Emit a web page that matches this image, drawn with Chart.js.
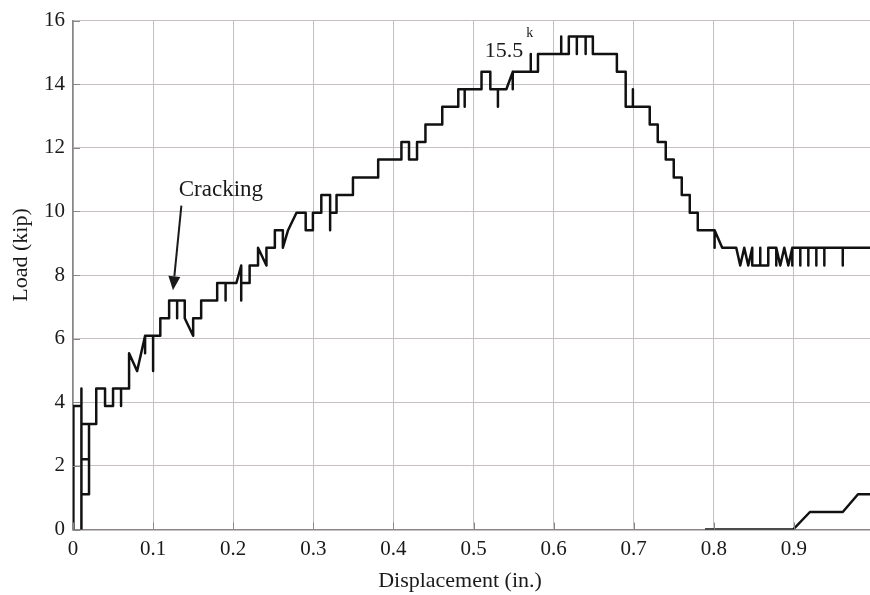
<!DOCTYPE html>
<html>
<head>
<meta charset="utf-8">
<script src="https://cdn.jsdelivr.net/npm/chart.js@4/dist/chart.umd.min.js"></script>
<style>
  html, body { margin: 0; padding: 0; background: #ffffff; }
  #wrap { width: 870px; height: 595px; }
</style>
</head>
<body>
<div id="wrap"><canvas id="c" width="870" height="595"></canvas></div>
<script>
// Load-displacement record of the specimen (displacement in inches, load in kips)
const dispIn = [
  0.0005, 0.0005, 0.0105, 0.0105, 0.0105, 0.0105, 0.020, 0.020, 0.020, 0.0105,
  0.0105, 0.029, 0.029, 0.040, 0.040, 0.050, 0.050, 0.060, 0.060, 0.060,
  0.070, 0.070, 0.080, 0.090, 0.090, 0.090, 0.100, 0.100, 0.100, 0.109,
  0.109, 0.120, 0.120, 0.130, 0.130, 0.130, 0.1395, 0.1395, 0.150, 0.150,
  0.160, 0.160, 0.180, 0.180, 0.1905, 0.1905, 0.1905, 0.204, 0.210, 0.210,
  0.210, 0.2205, 0.2205, 0.231, 0.231, 0.2415, 0.2415, 0.252, 0.252, 0.262,
  0.262, 0.2685, 0.279, 0.2905, 0.2905, 0.2995, 0.2995, 0.310, 0.310, 0.321,
  0.321, 0.321, 0.329, 0.329, 0.3495, 0.3495, 0.381, 0.381, 0.410, 0.410,
  0.4195, 0.4195, 0.4295, 0.4295, 0.440, 0.440, 0.461, 0.461, 0.481, 0.481,
  0.489, 0.489, 0.489, 0.510, 0.510, 0.521, 0.521, 0.5305, 0.5305, 0.5305,
  0.541, 0.549, 0.549, 0.549, 0.5715, 0.5715, 0.5715, 0.5805, 0.5805, 0.6095,
  0.6095, 0.6095, 0.619, 0.619, 0.629, 0.629, 0.629, 0.640, 0.640, 0.640,
  0.649, 0.649, 0.679, 0.679, 0.690, 0.690, 0.699, 0.699, 0.699, 0.720,
  0.720, 0.730, 0.730, 0.740, 0.740, 0.750, 0.750, 0.760, 0.760, 0.770,
  0.770, 0.780, 0.780, 0.801, 0.801, 0.801, 0.8105, 0.828, 0.833, 0.838,
  0.843, 0.848, 0.848, 0.858, 0.858, 0.858, 0.868, 0.868, 0.878, 0.878,
  0.878, 0.883, 0.888, 0.893, 0.898, 0.898, 0.898, 0.908, 0.908, 0.908,
  0.918, 0.918, 0.918, 0.928, 0.928, 0.928, 0.938, 0.938, 0.938, 0.961,
  0.961, 0.961, 1.000
];
const loadKip = [
  0, 3.88, 3.88, 0, 4.43, 1.11, 1.11, 3.32, 2.21, 2.21,
  3.32, 3.32, 4.43, 4.43, 3.88, 3.88, 4.43, 4.43, 3.88, 4.43,
  4.43, 5.54, 4.98, 6.09, 5.54, 6.09, 6.09, 4.98, 6.09, 6.09,
  6.64, 6.64, 7.20, 7.20, 6.64, 7.20, 7.20, 6.64, 6.09, 6.64,
  6.64, 7.20, 7.20, 7.75, 7.75, 7.20, 7.75, 7.75, 8.30, 7.20,
  7.75, 7.75, 8.30, 8.30, 8.86, 8.30, 8.86, 8.86, 9.41, 9.41,
  8.86, 9.41, 9.96, 9.96, 9.41, 9.41, 9.96, 9.96, 10.52, 10.52,
  9.41, 9.96, 9.96, 10.52, 10.52, 11.07, 11.07, 11.63, 11.63, 12.18,
  12.18, 11.63, 11.63, 12.18, 12.18, 12.73, 12.73, 13.29, 13.29, 13.84,
  13.84, 13.29, 13.84, 13.84, 14.39, 14.39, 13.84, 13.84, 13.29, 13.84,
  13.84, 14.39, 13.84, 14.39, 14.39, 14.95, 14.39, 14.39, 14.95, 14.95,
  15.50, 14.95, 14.95, 15.50, 15.50, 14.95, 15.50, 15.50, 14.95, 15.50,
  15.50, 14.95, 14.95, 14.39, 14.39, 13.29, 13.29, 13.84, 13.29, 13.29,
  12.73, 12.73, 12.18, 12.18, 11.63, 11.63, 11.07, 11.07, 10.52, 10.52,
  9.96, 9.96, 9.41, 9.41, 8.86, 9.41, 8.86, 8.86, 8.30, 8.86,
  8.30, 8.86, 8.30, 8.30, 8.86, 8.30, 8.30, 8.86, 8.86, 8.30,
  8.86, 8.30, 8.86, 8.30, 8.86, 8.30, 8.86, 8.86, 8.30, 8.86,
  8.86, 8.30, 8.86, 8.86, 8.30, 8.86, 8.86, 8.30, 8.86, 8.86,
  8.30, 8.86, 8.86
];

// Residual trace along the bottom of the plot
const residDispIn = [0.789, 0.899, 0.920, 0.961, 0.980, 1.000];
const residLoadKip = [0, 0, 0.55, 0.55, 1.11, 1.11];

// Axis ticks
const xTickStep = 0.1;
const yTickValues = [0, 2, 4, 6, 8, 10, 12, 14, 16];

// Callouts
const crackingLabel = { text: 'Cracking', x: 0.132, y: 10.5 };
const crackingArrow = { fromX: 0.1353, fromY: 10.18, toX: 0.1248, toY: 7.52 };
const peakLabel = { text: '15.5', sup: 'k', x: 0.514, y: 14.86 };

const toPoints = (xs, ys) => xs.map((x, i) => ({ x: x, y: ys[i] }));

const SERIF = '"Liberation Serif", "Times New Roman", serif';
const INK = '#1a1a1a';
const GRID = '#c7c0c0';
const AXIS = '#8a8686';

const decorations = {
  id: 'decorations',
  afterDatasetsDraw(chart) {
    const { ctx, chartArea, scales } = chart;
    const xs = scales.x, ys = scales.y;
    ctx.save();

    // small inward tick marks on the axes
    ctx.strokeStyle = AXIS;
    ctx.lineWidth = 1;
    ys.ticks.forEach(t => {
      const py = Math.round(ys.getPixelForValue(t.value)) + 0.5;
      ctx.beginPath();
      ctx.moveTo(chartArea.left, py);
      ctx.lineTo(chartArea.left + 7, py);
      ctx.stroke();
    });
    xs.ticks.forEach(t => {
      const px = Math.round(xs.getPixelForValue(t.value)) + 0.5;
      ctx.beginPath();
      ctx.moveTo(px, chartArea.bottom);
      ctx.lineTo(px, chartArea.bottom - 7);
      ctx.stroke();
    });

    ctx.fillStyle = INK;
    ctx.strokeStyle = INK;

    // "Cracking" callout with arrow
    ctx.font = '23px ' + SERIF;
    ctx.textAlign = 'left';
    ctx.textBaseline = 'alphabetic';
    ctx.fillText(crackingLabel.text, xs.getPixelForValue(crackingLabel.x), ys.getPixelForValue(crackingLabel.y));

    const ax0 = xs.getPixelForValue(crackingArrow.fromX), ay0 = ys.getPixelForValue(crackingArrow.fromY);
    const ax1 = xs.getPixelForValue(crackingArrow.toX), ay1 = ys.getPixelForValue(crackingArrow.toY);
    const ang = Math.atan2(ay1 - ay0, ax1 - ax0);
    const headLen = 14, headHalf = 6;
    const bx = ax1 - headLen * Math.cos(ang), by = ay1 - headLen * Math.sin(ang);
    ctx.lineWidth = 2;
    ctx.beginPath();
    ctx.moveTo(ax0, ay0);
    ctx.lineTo(bx, by);
    ctx.stroke();
    ctx.beginPath();
    ctx.moveTo(ax1, ay1);
    ctx.lineTo(bx + headHalf * Math.sin(ang), by - headHalf * Math.cos(ang));
    ctx.lineTo(bx - headHalf * Math.sin(ang), by + headHalf * Math.cos(ang));
    ctx.closePath();
    ctx.fill();

    // peak load label
    ctx.font = '22px ' + SERIF;
    const px = xs.getPixelForValue(peakLabel.x), py = ys.getPixelForValue(peakLabel.y);
    ctx.fillText(peakLabel.text, px, py);
    const w = ctx.measureText(peakLabel.text).width;
    ctx.font = '14px ' + SERIF;
    ctx.fillText(peakLabel.sup, px + w + 3, py - 20);

    // axis titles
    ctx.font = '22px ' + SERIF;
    ctx.textAlign = 'center';
    ctx.fillText('Displacement (in.)', 460, 587);
    ctx.save();
    ctx.translate(27, 255);
    ctx.rotate(-Math.PI / 2);
    ctx.fillText('Load (kip)', 0, 0);
    ctx.restore();

    ctx.restore();
  }
};

const lineStyle = {
  showLine: true,
  borderColor: '#111111',
  borderWidth: 2.5,
  pointRadius: 0,
  pointHoverRadius: 0,
  fill: false,
  tension: 0,
  borderJoinStyle: 'round',
  borderCapStyle: 'butt'
};

new Chart(document.getElementById('c').getContext('2d'), {
  type: 'scatter',
  data: {
    datasets: [
      Object.assign({ label: 'Load', data: toPoints(dispIn, loadKip) }, lineStyle),
      Object.assign({ label: 'Residual', data: toPoints(residDispIn, residLoadKip) }, lineStyle)
    ]
  },
  options: {
    responsive: false,
    animation: false,
    devicePixelRatio: 1,
    layout: { padding: { top: 16, right: 0, left: 0, bottom: 0 } },
    plugins: { legend: { display: false }, tooltip: { enabled: false } },
    scales: {
      x: {
        type: 'linear',
        min: 0,
        max: 0.995,
        afterFit(scale) { scale.height = 65.5; },
        ticks: {
          stepSize: xTickStep,
          includeBounds: false,
          maxRotation: 0,
          autoSkip: false,
          padding: 7,
          color: INK,
          font: { family: SERIF, size: 21 }
        },
        grid: { color: GRID, lineWidth: 1, drawTicks: false },
        border: { color: AXIS, width: 1.5 }
      },
      y: {
        type: 'linear',
        min: 0,
        max: 16,
        afterFit(scale) { scale.width = 73; },
        afterBuildTicks(scale) { scale.ticks = yTickValues.map(v => ({ value: v })); },
        ticks: {
          padding: 8,
          color: INK,
          font: { family: SERIF, size: 21 }
        },
        grid: { color: GRID, lineWidth: 1, drawTicks: false },
        border: { color: AXIS, width: 1.5 }
      }
    }
  },
  plugins: [decorations]
});
</script>
</body>
</html>
